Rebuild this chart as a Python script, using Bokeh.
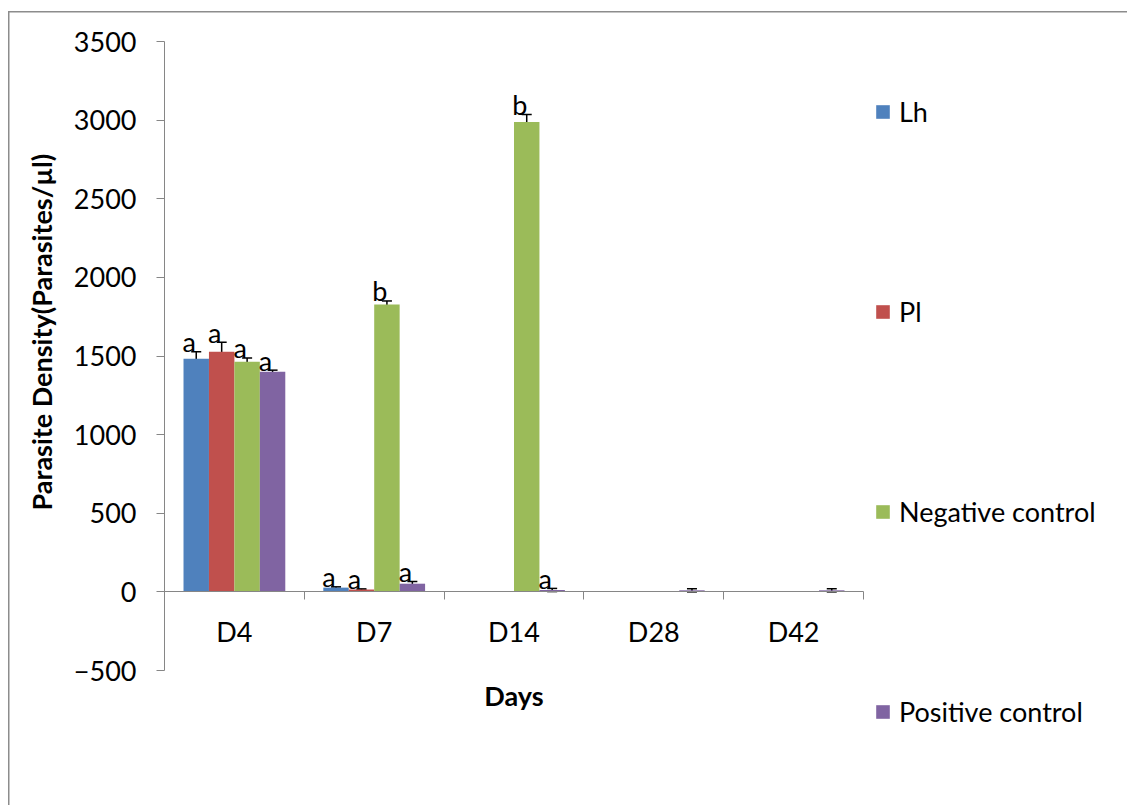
from bokeh.plotting import figure
from bokeh.models import (ColumnDataSource, Whisker, TeeHead, FixedTicker,
                          Legend, LegendItem, Title, Label)
from bokeh.core.properties import value
from bokeh.embed import file_html
from bokeh.resources import INLINE

# Parasite density per day of follow-up (mean and error), with group letters
days = ["D4", "D7", "D14", "D28", "D42"]
series = ["Lh", "Pl", "Negative control", "Positive control"]
colors = ["#4F81BD", "#C0504D", "#9BBB59", "#8064A2"]

lh_mean = [1482, 27, 0, 0, 0]
pl_mean = [1527, 15, 0, 0, 0]
neg_mean = [1463, 1828, 2988, 0, 0]
pos_mean = [1400, 52, 12, 10, 10]

lh_err = [45, 5, 0, 0, 0]
pl_err = [60, 4, 0, 0, 0]
neg_err = [25, 22, 48, 0, 0]
pos_err = [10, 14, 10, 10, 10]

lh_sig = ["a", "a", "", "", ""]
pl_sig = ["a", "a", "", "", ""]
neg_sig = ["a", "b", "b", "", ""]
pos_sig = ["a", "a", "a", "", ""]

y_ticks = [-500, 0, 500, 1000, 1500, 2000, 2500, 3000, 3500]

means = [lh_mean, pl_mean, neg_mean, pos_mean]
errs = [lh_err, pl_err, neg_err, pos_err]
sigs = [lh_sig, pl_sig, neg_sig, pos_sig]

FONT = "Lato"
FS = "27px"
AXIS_GREY = "#868686"
bar_w = 0.182

# Layout in pixels: the plot area spans 699 x 629 px for the axis bounds;
# the frame is widened/deepened so the legend and x title live inside it.
W, H = 1119, 794
LEFT, TOP = 156, 30
AX_W, AX_H = 699, 629
n = len(days)
y_span = y_ticks[-1] - y_ticks[0]
x_end = n * (W - LEFT) / AX_W
y_start = y_ticks[0] - y_span * (H - TOP - AX_H) / AX_H

p = figure(width=W, height=H, output_backend="svg", toolbar_location=None,
           x_range=(0, x_end), y_range=(y_start, y_ticks[-1]),
           min_border_left=LEFT, min_border_right=0,
           min_border_top=TOP, min_border_bottom=0,
           border_fill_color=None,
           styles={"margin-left": "8px", "margin-top": "11px",
                   "box-shadow": "inset 1.5px 1.5px 0 0 #8c8c8c"})
p.outline_line_color = None
p.grid.visible = False

items = []
for i, (name, col, m, e, s) in enumerate(zip(series, colors, means, errs, sigs)):
    xs = [k + 0.5 + (i - 1.5) * bar_w for k in range(n)]
    src = ColumnDataSource(dict(x=xs, top=m, sig=s))
    r = p.vbar(x="x", top="top", bottom=0, width=bar_w, source=src,
               fill_color=col, line_color=None)
    items.append(LegendItem(label=name, renderers=[r]))
    keep = [k for k in range(n) if e[k] > 0]
    err_src = ColumnDataSource(dict(x=[xs[k] for k in keep],
                                    up=[m[k] + e[k] for k in keep],
                                    lo=[m[k] - e[k] for k in keep]))
    p.add_layout(Whisker(base="x", upper="up", lower="lo", source=err_src,
                         dimension="height", line_color="black", line_width=1.5,
                         upper_head=TeeHead(size=10, line_width=1.5, line_color="black"),
                         lower_head=TeeHead(size=10, line_width=1.5, line_color="black")))
    p.text(x="x", y="top", text="sig", source=dict(
               x=xs, top=[a + b for a, b in zip(m, e)], sig=s),
           x_offset=-7, y_offset=-10,
           text_font=value(FONT), text_font_size=FS, text_color="black",
           text_align="center", text_baseline="alphabetic")

# y axis
yax = p.yaxis[0]
yax.bounds = (y_ticks[0], y_ticks[-1])
yax.ticker = FixedTicker(ticks=y_ticks)
yax.axis_line_color = AXIS_GREY
yax.major_tick_line_color = AXIS_GREY
yax.major_tick_in = 0
yax.major_tick_out = 8
yax.minor_tick_line_color = None
yax.major_label_text_font = FONT
yax.major_label_text_font_size = FS
yax.major_label_text_color = "black"
yax.major_label_standoff = 20

p.add_layout(Title(text="Parasite Density(Parasites/µl)", align="left",
                   offset=295, standoff=26,
                   text_font=FONT, text_font_size=FS, text_font_style="bold",
                   text_color="black"), "left")

# x axis crosses at zero, ticks between categories
xax = p.xaxis[0]
xax.fixed_location = 0
xax.bounds = (0, n)
xax.ticker = FixedTicker(ticks=[k + 0.5 for k in range(n)],
                         minor_ticks=list(range(n + 1)))
xax.major_label_overrides = {k + 0.5: d for k, d in enumerate(days)}
xax.axis_line_color = AXIS_GREY
xax.major_tick_line_color = None
xax.major_tick_out = 0
xax.major_tick_in = 0
xax.minor_tick_line_color = AXIS_GREY
xax.minor_tick_out = 8
xax.minor_tick_in = 0
xax.major_label_text_font = FONT
xax.major_label_text_font_size = FS
xax.major_label_text_color = "black"
xax.major_label_standoff = 15

p.add_layout(Label(x=n / 2, y=y_ticks[0], y_offset=-25, text="Days",
                   text_align="center", text_baseline="middle",
                   text_font=FONT, text_font_size=FS, text_font_style="bold",
                   text_color="black"))

legend = Legend(items=items, location=(710, 77), orientation="vertical",
                spacing=167, padding=0, margin=0,
                glyph_width=17, glyph_height=17, label_height=17,
                label_standoff=8, border_line_color=None,
                background_fill_alpha=0,
                label_text_font=FONT, label_text_font_size=FS,
                label_text_color="black")
p.add_layout(legend, "center")

open("out.html", "w").write(file_html(p, INLINE))
